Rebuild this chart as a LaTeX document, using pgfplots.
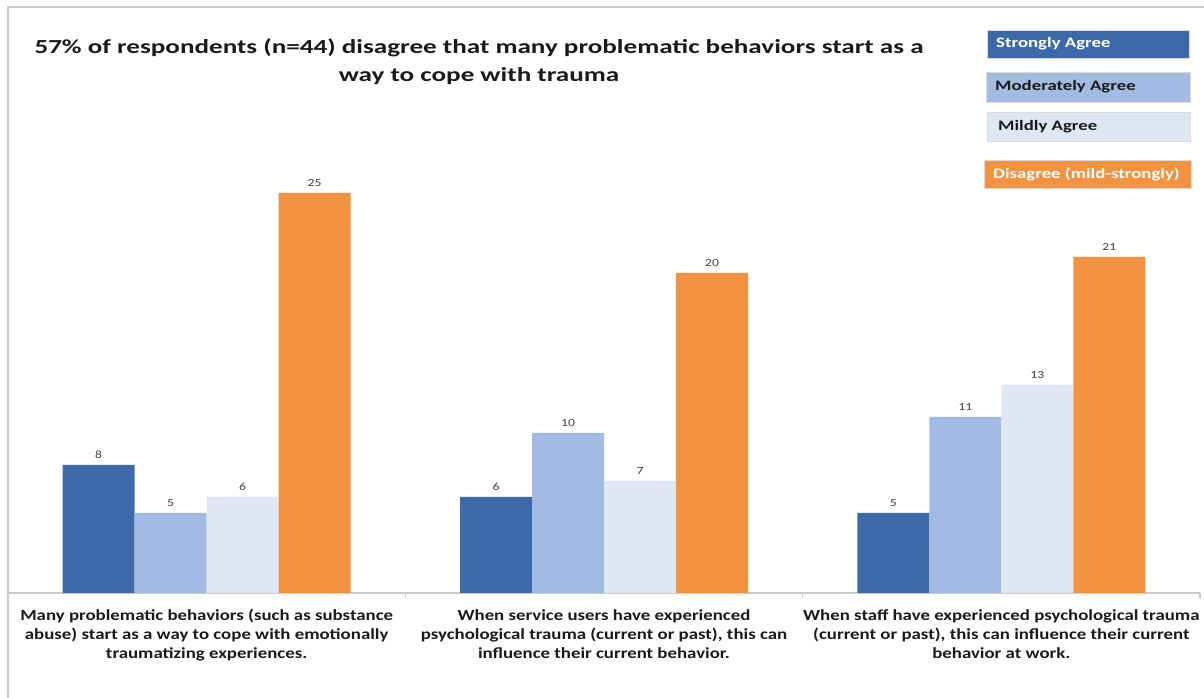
\documentclass[border=0pt]{standalone}
\usepackage{pgfplots}
\pgfplotsset{compat=1.18}
\usepackage{fontspec}
\setmainfont{Carlito}
\newfontfamily\titlefont[FakeStretch=1.36]{Carlito}
\newfontfamily\catfont[FakeStretch=1.22]{Carlito}
\newfontfamily\legfont[FakeStretch=1.3]{Carlito}
\newfontfamily\valfont[FakeStretch=1.25]{Carlito}
\definecolor{sagree}{HTML}{3C69A7}
\definecolor{magree}{HTML}{A2BBE2}
\definecolor{mildagree}{HTML}{DFE6F4}
\definecolor{disagree}{HTML}{F39341}
\definecolor{framegray}{HTML}{CACACA}
\definecolor{valuegray}{HTML}{404040}
\definecolor{textblack}{HTML}{1A1A1A}

\begin{document}
\begin{tikzpicture}[x=1bp,y=1bp]
\useasboundingbox (0,0) rectangle (1204,698);
% chart frame, open to the right and bottom
\draw[framegray, line width=1.3bp] (8,-10) -- (8,691) -- (1215,691);

\begin{axis}[
  at={(8bp,105bp)}, anchor=south west,
  width=1192bp, height=448bp, scale only axis,
  xmin=-0.5, xmax=2.5, ymin=0, ymax=28,
  ybar=0pt, bar width=72bp,
  hide y axis,
  axis x line=bottom,
  axis line style={framegray, line width=1.3bp, -},
  xtick={0,1,2},
  xticklabels={
    {Many problematic behaviors (such as substance\\abuse) start as a way to cope with emotionally\\traumatizing experiences.},
    {When service users have experienced\\psychological trauma (current or past), this can\\influence their current behavior.},
    {When staff have experienced psychological trauma\\(current or past), this can influence their current\\behavior at work.}},
  major tick length=0pt,
  extra x ticks={0.5,1.5,2.5},
  extra x tick labels={},
  extra x tick style={major tick length=5bp, tick align=outside,
    tick style={framegray, line width=1.5bp}},
  xticklabel style={align=center, text=textblack,
    font=\catfont\bfseries\fontsize{15.5}{19}\selectfont, yshift=-13bp},
  /pgf/number format/assume math mode=true,
  nodes near coords,
  every node near coord/.append style={font=\valfont\fontsize{11}{13}\selectfont,
    text=valuegray, inner sep=0pt, yshift=6bp},
  clip=false,
]
\addplot[fill=sagree, draw=none] coordinates {(0,8) (1,6) (2,5)};
\addplot[fill=magree, draw=none] coordinates {(0,5) (1,10) (2,11)};
\addplot[fill=mildagree, draw=none] coordinates {(0,6) (1,7) (2,13)};
\addplot[fill=disagree, draw=none] coordinates {(0,25) (1,20) (2,21)};
\end{axis}

% title
\node[align=center, text=textblack, font=\titlefont\bfseries\fontsize{20}{28}\selectfont]
  at (479,636) {57\% of respondents (n=44) disagree that many problematic behaviors start as a\\way to cope with trauma};

% legend boxes
\begin{scope}[font=\legfont\bfseries\fontsize{14.5}{17}\selectfont]
\filldraw[fill=sagree, draw=framegray!70, line width=0.8bp] (987,640) rectangle (1189,668);
\node[anchor=west, text=white, inner sep=0pt] at (996,654) {Strongly Agree};
\filldraw[fill=magree, draw=framegray!70, line width=0.8bp] (986,596) rectangle (1190,626);
\node[anchor=west, text=textblack, inner sep=0pt] at (995,611) {Moderately Agree};
\filldraw[fill=mildagree, draw=framegray!70, line width=0.8bp] (987,557) rectangle (1190,586);
\node[anchor=west, text=textblack, inner sep=0pt] at (998,571.5) {Mildly Agree};
\filldraw[fill=disagree, draw=framegray!70, line width=0.8bp] (984,510) rectangle (1191,538);
\node[anchor=west, text=white, inner sep=0pt] at (993,524) {Disagree (mild-strongly)};
\end{scope}
\end{tikzpicture}
\end{document}
